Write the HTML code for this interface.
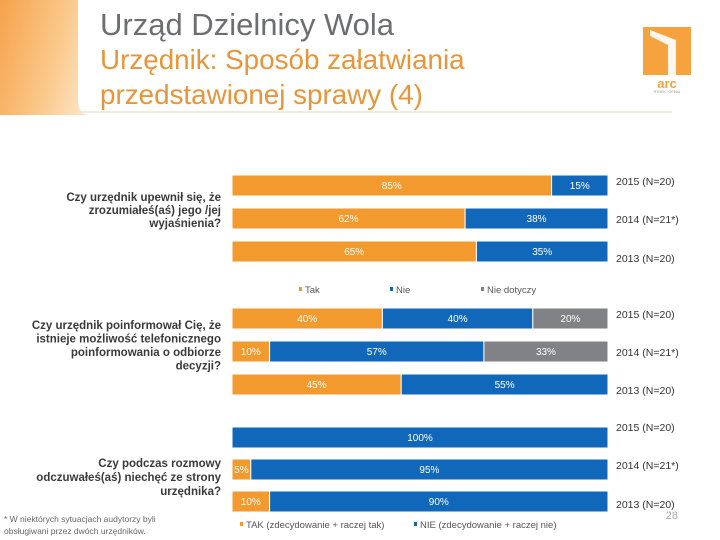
<!DOCTYPE html>
<html><head><meta charset="utf-8">
<style>
body{margin:0;width:720px;height:540px;overflow:hidden;background:#fff;font-family:"Liberation Sans",sans-serif;}
svg{display:block}
</style></head>
<body>
<svg id="c" width="720" height="540" xmlns="http://www.w3.org/2000/svg">
<defs>
<linearGradient id="og" x1="0" y1="0" x2="1" y2="0.3">
<stop offset="0" stop-color="#f6a24a"/><stop offset="0.6" stop-color="#fbc98c"/><stop offset="1" stop-color="#fde6c9"/>
</linearGradient>
</defs>
<rect x="0" y="0" width="110" height="115" fill="url(#og)"/>
<path d="M78 0 H720 V115 H90 Q78 115 78 100 Z" fill="#fff"/>
<line x1="80" y1="112" x2="672" y2="112" stroke="#ede3d3" stroke-width="1.5"/>
<text x="100" y="35" font-size="31" fill="#6d6e70">Urząd Dzielnicy Wola</text>
<text x="100" y="69" font-size="27.8" fill="#e8953a">Urzędnik: Sposób załatwiania</text>
<text x="100" y="104" font-size="27.8" fill="#e8953a">przedstawionej sprawy (4)</text>
<g>
<rect x="643" y="27" width="48" height="48" fill="#f5a23f"/>
<path d="M650 30 L676 40 L676 75 L668 75 L668 45 L650 36 Z" fill="#fff" opacity="0.9"/>
<text x="667" y="88" font-size="13" font-weight="bold" fill="#f5a23f" text-anchor="middle">arc</text>
<text x="667" y="93" font-size="3.5" fill="#999" text-anchor="middle">RYNEK I OPINIA</text>
</g>
<g font-weight="bold" font-size="11.5" fill="#3a3a3a" text-anchor="end">
<text x="221" y="201"><tspan x="221">Czy urzędnik upewnił się, że</tspan><tspan x="221" dy="13">zrozumiałeś(aś) jego /jej</tspan><tspan x="221" dy="13">wyjaśnienia?</tspan></text>
<text x="221" y="329"><tspan x="221">Czy urzędnik poinformował Cię, że</tspan><tspan x="221" dy="13.5">istnieje możliwość telefonicznego</tspan><tspan x="221" dy="13.5">poinformowania o odbiorze</tspan><tspan x="221" dy="13.5">decyzji?</tspan></text>
<text x="221" y="467"><tspan x="221">Czy podczas rozmowy</tspan><tspan x="221" dy="14">odczuwałeś(aś) niechęć ze strony</tspan><tspan x="221" dy="14">urzędnika?</tspan></text>
</g>
<text x="4" y="522" font-size="8.5" fill="#666"><tspan x="4">* W niektórych sytuacjach audytorzy byli</tspan><tspan x="4" dy="12">obsługiwani przez dwóch urzędników.</tspan></text>
<text x="678" y="519" font-size="11" fill="#aaa" text-anchor="end">28</text>
<g id="bars"></g>
</svg>
<script>
const rowLabels=["2015 (N=20)","2014 (N=21*)","2013 (N=20)"];
const g1Tak=[85,62,65];
const g1Nie=[15,38,35];
const g2Tak=[40,10,45];
const g2Nie=[40,57,55];
const g2Nd=[20,33,0];
const g3Tak=[0,5,10];
const g3Nie=[100,95,90];
const COL={tak:"#f39a2f",nie:"#1168bb",nd:"#808285"};
const X0=232,W=376,H=21;
const sx=v=>X0+v/100*W;
const NS="http://www.w3.org/2000/svg";
const root=document.getElementById('bars');
function mk(t,a){const e=document.createElementNS(NS,t);for(const k in a)e.setAttribute(k,a[k]);root.appendChild(e);return e;}
const groups=[
 {y:[175,208,241],ly:[185,223,262],series:[["tak",g1Tak],["nie",g1Nie]]},
 {y:[308,341,374],ly:[318,356,394],series:[["tak",g2Tak],["nie",g2Nie],["nd",g2Nd]]},
 {y:[427,459,491],ly:[431,469,508],series:[["tak",g3Tak],["nie",g3Nie]]}
];
groups.forEach((gr,gi)=>{
 for(let r=0;r<3;r++){
  let acc=0;
  gr.series.forEach(([k,arr])=>{
   const v=arr[r];
   if(v>0){
    const rc=mk('rect',{x:sx(acc),y:gr.y[r],width:sx(acc+v)-sx(acc),height:H,fill:COL[k],stroke:'#fff','stroke-width':1});
    
    
    const t=mk('text',{x:(sx(acc)+sx(acc+v))/2,y:gr.y[r]+14,'font-size':10,fill:'#fff','text-anchor':'middle'});
    t.textContent=v+'%';
    
    
   }
   acc+=v;
  });
  const l=mk('text',{x:616,y:gr.ly[r],'font-size':10.5,fill:'#333'});
  l.textContent=rowLabels[r];
  
  
 }
});
function leg(x,y,col,txt){
 const s=mk('rect',{x:x,y:y-6,width:3,height:4,fill:col});
 
 
 const t=mk('text',{x:x+6,y:y,'font-size':9.5,fill:'#555'});
 t.textContent=txt;
 
 
}
leg(299,293,COL.tak,"Tak");
leg(390,293,COL.nie,"Nie");
leg(481,293,COL.nd,"Nie dotyczy");
leg(240,528,COL.tak,"TAK (zdecydowanie + raczej tak)");
leg(414,528,COL.nie,"NIE (zdecydowanie + raczej nie)");
</script>
</body></html>
